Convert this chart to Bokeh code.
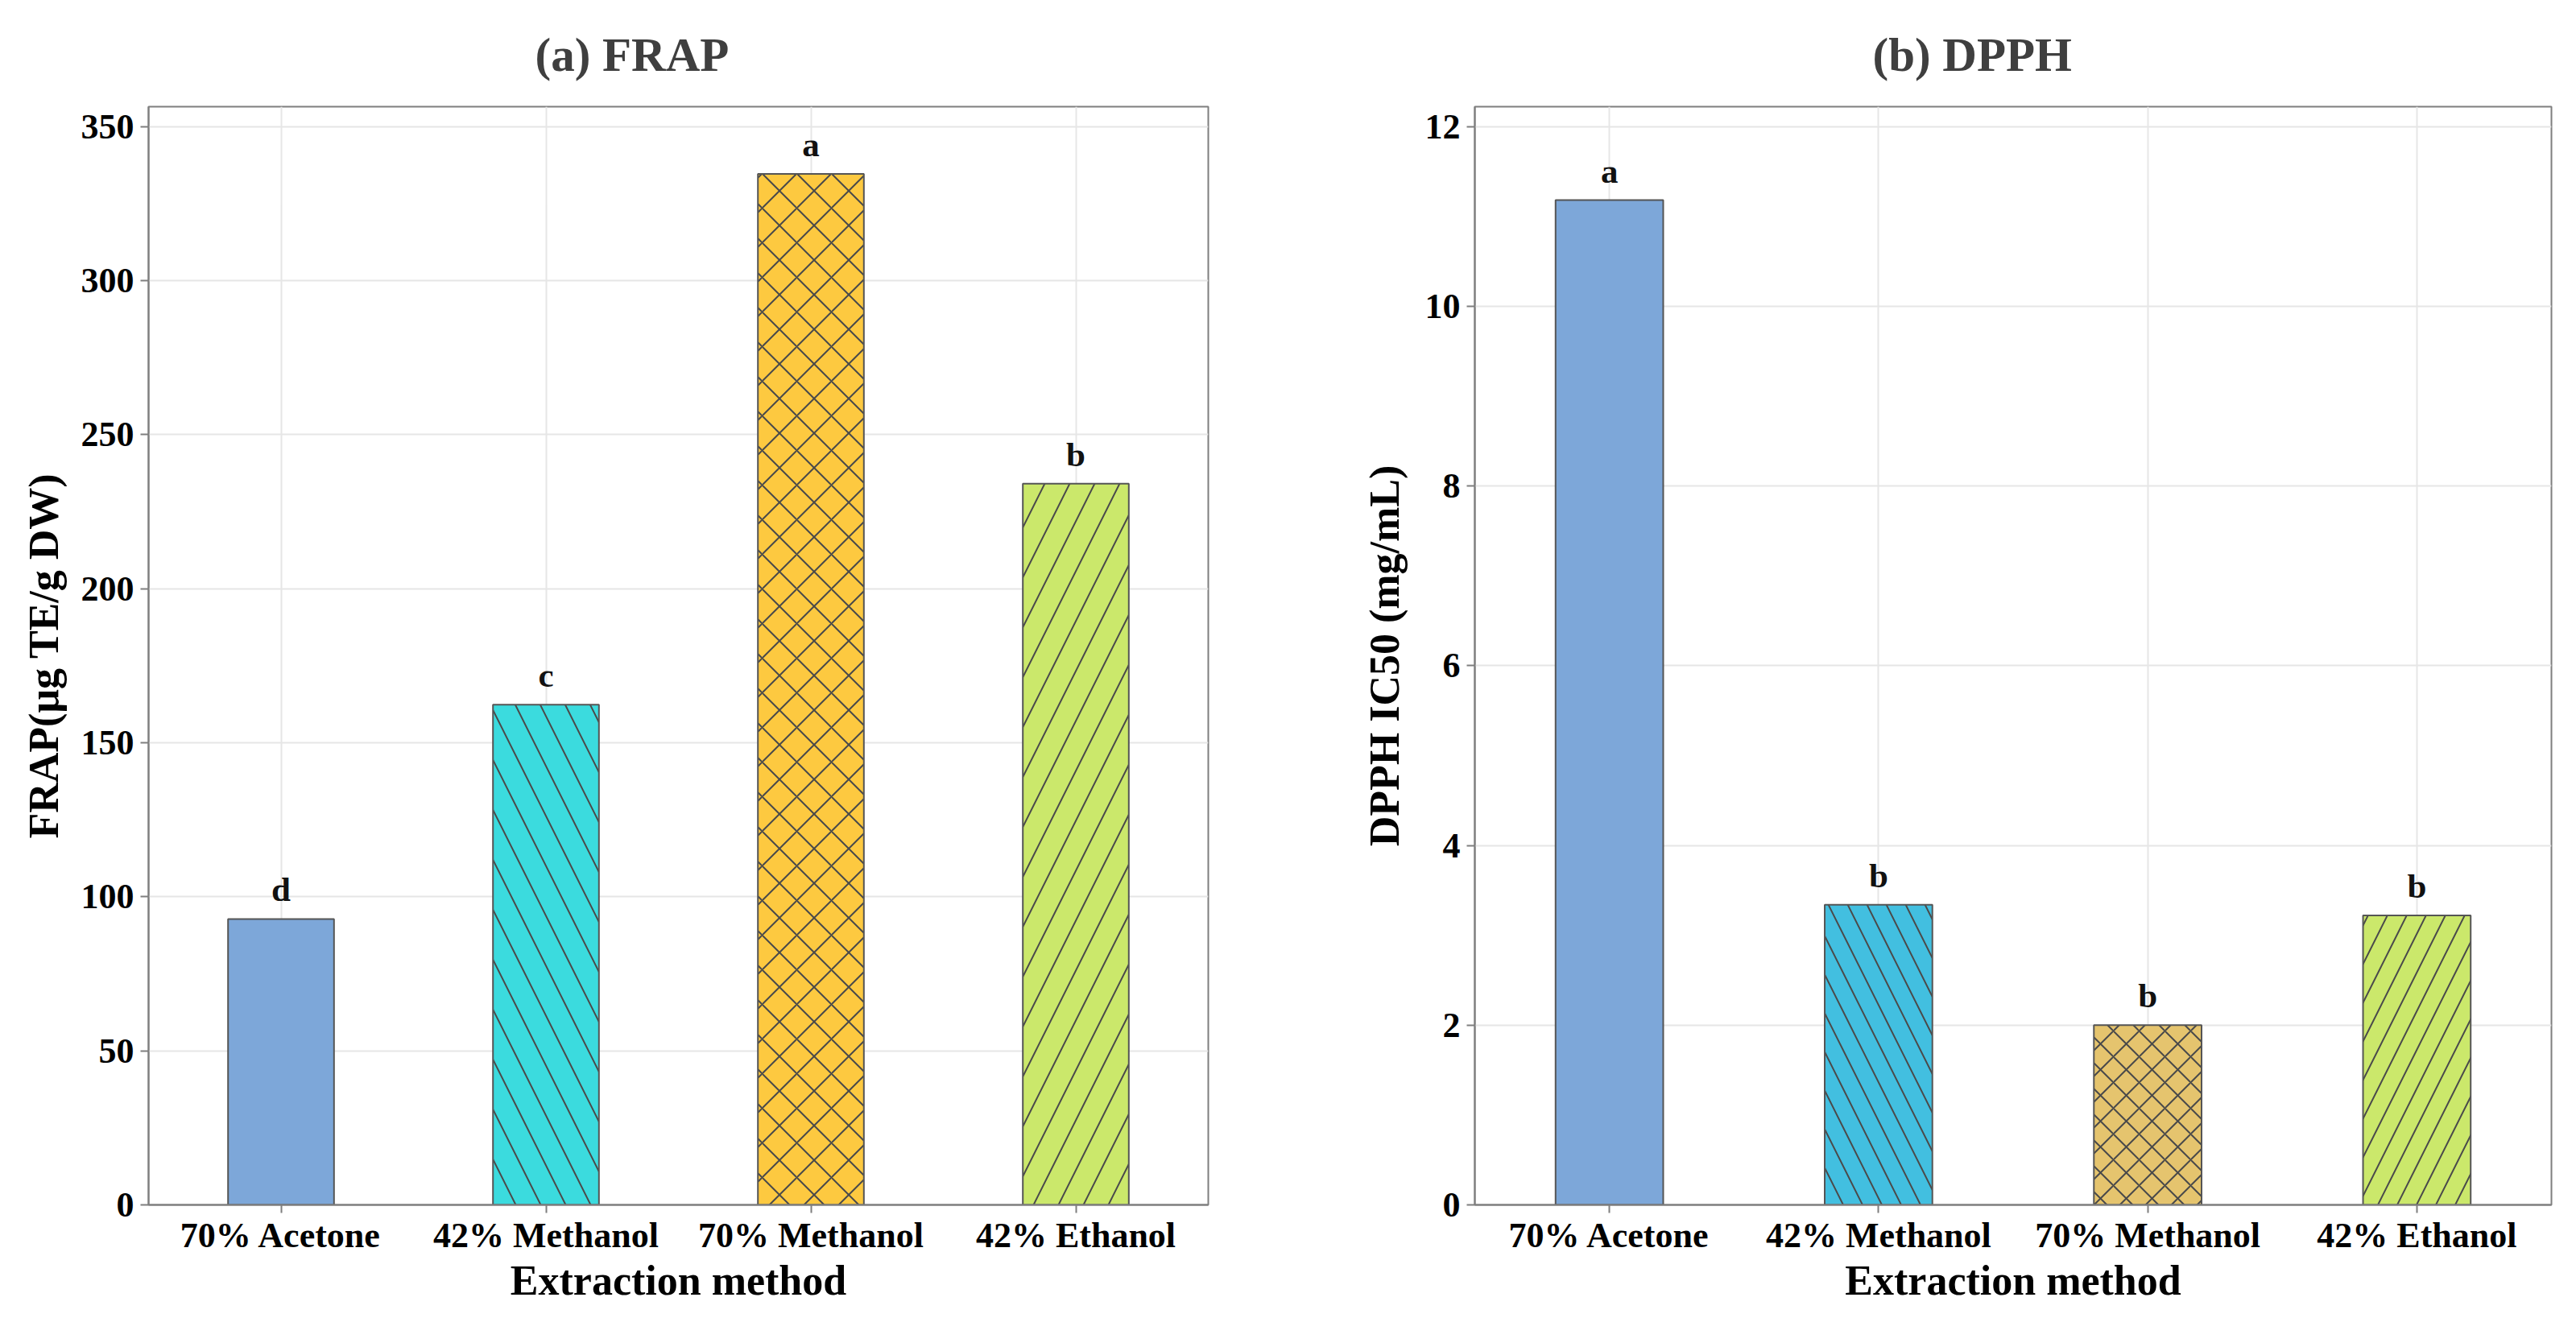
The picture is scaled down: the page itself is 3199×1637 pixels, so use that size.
from bokeh.plotting import figure
from bokeh.models import ColumnDataSource, Range1d, FixedTicker, FactorRange
from bokeh.layouts import row
from bokeh.embed import file_html
from bokeh.resources import INLINE
from bokeh.core.properties import value

# ---- data ----
methods = ["70% Acetone", "42% Methanol", "70% Methanol", "42% Ethanol"]
frap_values = [92.8, 162.4, 334.7, 234.1]
frap_letters = ["d", "c", "a", "b"]
frap_colors = ["#7DA7D9", "#3BDBDE", "#FDC940", "#CBE86B"]
dpph_values = [11.18, 3.34, 2.0, 3.22]
dpph_letters = ["a", "b", "b", "b"]
dpph_colors = ["#7DA7D9", "#42BFE0", "#E5C46E", "#CBE86B"]
hatches = ["blank", "left_diagonal_line", "diagonal_cross", "right_diagonal_line"]
frap_ticks = [0, 50, 100, 150, 200, 250, 300, 350]
dpph_ticks = [0, 2, 4, 6, 8, 10, 12]

FONT = "Liberation Serif"


def make_panel(title, ylabel, vals, letters, colors, ticks, ymax, width,
               bl, br, title_offset, label_standoff, hscales):
    src = ColumnDataSource(dict(x=methods, top=vals, letter=letters,
                                color=colors, hatch=hatches, hs=hscales))
    p = figure(x_range=FactorRange(factors=methods), y_range=Range1d(0, ymax),
               width=width, height=1621, output_backend="svg",
               toolbar_location=None, min_border_left=bl, min_border_right=br,
               min_border_top=130, min_border_bottom=125)
    p.vbar(x="x", top="top", width=0.4, source=src, fill_color="color",
           line_color="#555555", line_width=2, hatch_pattern="hatch",
           hatch_color="#4a4a4a", hatch_weight=2, hatch_scale="hs")
    p.text(x="x", y="top", text="letter", source=src, y_offset=-13,
           text_align="center", text_baseline="bottom",
           text_font=value(FONT), text_font_style="bold",
           text_font_size="43px", text_color="#111111")

    p.title.text = title
    p.title.align = "left"
    p.title.offset = title_offset
    p.title.text_font = FONT
    p.title.text_font_size = "59px"
    p.title.text_font_style = "bold"
    p.title.text_color = "#3f3f3f"
    p.title.standoff = 64

    p.outline_line_color = "#7f7f7f"
    p.outline_line_width = 2

    p.yaxis.ticker = FixedTicker(ticks=ticks)
    for ax in (p.xaxis, p.yaxis):
        ax.axis_line_color = "#7f7f7f"
        ax.axis_line_width = 2
        ax.major_tick_line_color = "#7f7f7f"
        ax.major_tick_line_width = 2
        ax.major_tick_out = 10
        ax.major_tick_in = 0
        ax.minor_tick_line_color = None
        ax.major_label_text_font = FONT
        ax.major_label_text_font_size = "44px"
        ax.major_label_text_font_style = "bold"
        ax.major_label_text_color = "#000000"
        ax.axis_label_text_font = FONT
        ax.axis_label_text_font_size = "52px"
        ax.axis_label_text_font_style = "bold"
        ax.axis_label_text_color = "#000000"
        ax.major_label_standoff = 8
    p.xaxis.axis_label = "Extraction method"
    p.xaxis.axis_label_standoff = 0
    p.xaxis.major_label_standoff = 3
    p.yaxis.axis_label = ylabel
    p.yaxis.axis_label_standoff = label_standoff

    p.xgrid.grid_line_color = "#e6e6e6"
    p.xgrid.grid_line_width = 2
    p.ygrid.grid_line_color = "#e6e6e6"
    p.ygrid.grid_line_width = 2
    p.background_fill_color = "white"
    p.border_fill_color = "white"
    return p


pa = make_panel("(a) FRAP", "FRAP(μg TE/g DW)", frap_values, frap_letters,
                frap_colors, frap_ticks, 356.5, 1600, 184, 100, 480, 15,
                [62, 62, 43, 62])
pb = make_panel("(b) DPPH", "DPPH IC50 (mg/mL)", dpph_values, dpph_letters,
                dpph_colors, dpph_ticks, 12.22, 1583, 231, 15, 494, 19,
                [48, 48, 32, 48])

layout = row(pa, pb)
open("out.html", "w").write(file_html(layout, INLINE))
